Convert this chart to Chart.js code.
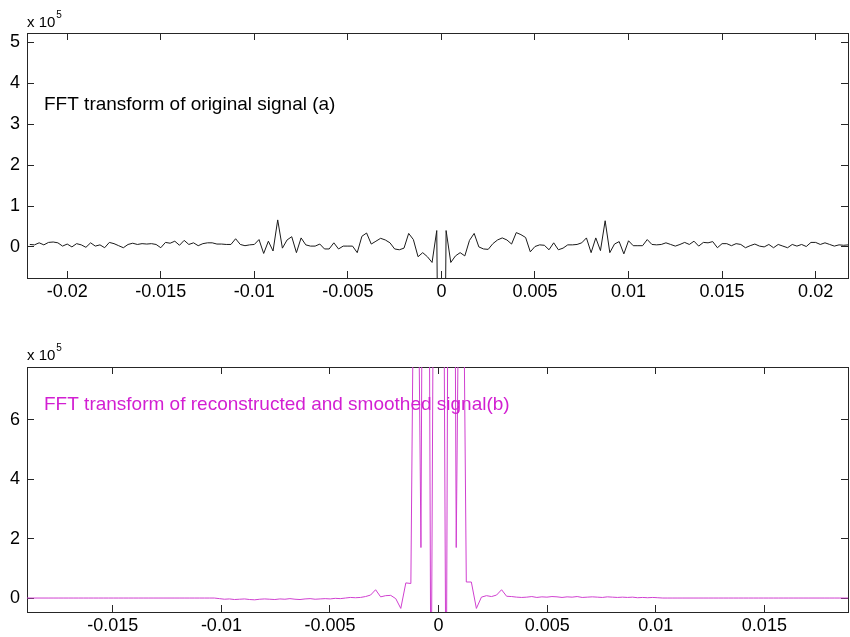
<!DOCTYPE html>
<html>
<head>
<meta charset="utf-8">
<script src="https://cdn.jsdelivr.net/npm/chart.js@4.4.0/dist/chart.umd.min.js"></script>
<style>
  html, body { margin: 0; padding: 0; background: #fff; }
  #wrap { position: relative; width: 850px; height: 637px; overflow: hidden; }
  canvas { position: absolute; left: 0; }
  #topChart { top: 0; }
  #bottomChart { top: 330px; }
</style>
</head>
<body>
<div id="wrap">
  <canvas id="topChart" width="850" height="310"></canvas>
  <canvas id="bottomChart" width="850" height="307"></canvas>
</div>
<script>
/* =========================
  Data (values in units of 1e5)
========================= */
// top: FFT of original signal, uniform frequency bins
const topStart = -0.022;
const topStep = 0.00025;
const topValues = [
  0.06, 0.05, 0.10, 0.05, 0.11, 0.12, 0.10, 0.02, 0.07, 0.00,
  0.08, 0.05, -0.01, 0.10, 0.02, 0.05, -0.02, 0.11, 0.08, 0.03,
  -0.02, 0.06, 0.09, 0.06, 0.08, 0.07, 0.08, 0.06, -0.02, 0.11,
  0.09, 0.14, 0.04, 0.16, 0.06, 0.10, 0.03, 0.08, 0.10, 0.10,
  0.07, 0.07, 0.06, 0.06, 0.20, 0.06, 0.03, 0.05, 0.06, 0.18,
  -0.16, 0.14, -0.10, 0.66, -0.03, 0.17, 0.25, -0.14, 0.22, 0.05,
  0.02, 0.02, 0.07, -0.05, -0.05, 0.10, -0.05, 0.02, 0.02, 0.02,
  -0.14, 0.26, 0.34, 0.07, 0.14, 0.21, 0.17, 0.10, -0.05, -0.07,
  -0.03, 0.33, 0.18, -0.24, -0.14, -0.24, -0.38, 0.40,
  -12,
  0.40, -0.38, -0.22, -0.14, -0.22, 0.16, 0.33, 0.00, -0.05, -0.06, 0.08,
  0.17, 0.22, 0.17, 0.07, 0.35, 0.30, 0.23, -0.12, 0.01, 0.05,
  0.04, -0.07, 0.10, -0.07, -0.03, 0.05, 0.05, 0.06, 0.10, 0.22,
  -0.14, 0.22, -0.09, 0.64, -0.14, 0.07, 0.13, -0.17, 0.15, 0.03,
  0.03, 0.03, 0.18, 0.06, 0.05, 0.06, 0.10, 0.06, 0.02, 0.06,
  0.11, 0.06, 0.14, 0.02, 0.11, 0.10, 0.13, -0.02, 0.08, 0.08,
  0.03, 0.08, 0.06, -0.02, 0.03, 0.07, 0.02, 0.00, 0.06, -0.02,
  0.06, 0.02, -0.02, 0.06, 0.02, 0.06, 0.01, 0.11, 0.11, 0.06,
  0.10, 0.06, 0.02, 0.05, 0.04, 0.05
];

// bottom: FFT of reconstructed + smoothed signal, bins at (k + 0.5) * step
const bottomFirstK = -83;
const bottomStep = 0.000232;
const bottomValues = [
  0, 0, 0, 0, 0, 0, 0, 0, 0, 0, 0, 0, 0, 0, 0, 0, 0, 0, 0, 0,
  0, 0, 0, 0, 0, 0, 0, 0, 0, 0, 0, 0, 0, 0, 0, 0, 0, 0, 0,
  -0.02, -0.04, -0.03, -0.05, -0.04, -0.03, -0.05, -0.06, -0.04, -0.03,
  -0.04, -0.05, -0.03, -0.04, -0.02, -0.04, -0.05, -0.03, -0.02, -0.04,
  -0.03, -0.02, -0.03, -0.01, -0.02, 0.00, 0.02, 0.01,
  0.02, 0.05, 0.10, 0.28, 0.04, 0.08, 0.09, -0.02, -0.35, 0.51,
  0.49, 20, 1.7, 40, -5, 30, 30, -5, 40, 1.7,
  20, 0.54, 0.54, -0.35, 0.03, 0.08, 0.05, 0.10, 0.28, 0.06,
  0.05, 0.03,
  0.02, 0.03, 0.05, 0.02, 0.04, 0.03, 0.05, 0.04, 0.02, 0.04,
  0.03, 0.05, 0.02, 0.03, 0.04, 0.03, 0.02, 0.04, 0.03, 0.02,
  0.03, 0.02, 0.03, 0.01, 0.02, 0.01, 0.02, 0.01,
  0, 0, 0, 0, 0, 0, 0, 0, 0, 0, 0, 0, 0, 0, 0, 0, 0, 0, 0, 0,
  0, 0, 0, 0, 0, 0, 0, 0, 0, 0, 0, 0, 0, 0, 0, 0, 0, 0, 0
];

const topTitle = "FFT transform of original signal (a)";
const bottomTitle = "FFT transform of reconstructed and smoothed signal(b)";
const xTickStep = 0.005;

/* =========================
  Helper
========================= */
const FONT = "'Liberation Sans', Arial, Helvetica, sans-serif";
const AXIS = "#262626";

function fmtTick(v) {
  const r = Math.round(v * 10000) / 10000;
  return r === 0 ? "0" : String(r);
}

function makeScales(o) {
  const tickFont = { family: FONT, size: 18 };
  const border = { color: AXIS, width: 1 };
  const grid = { drawOnChartArea: false, tickLength: -7, color: AXIS, lineWidth: 1 };
  return {
    x: {
      type: "linear", position: "bottom", min: o.xMin, max: o.xMax,
      ticks: { stepSize: xTickStep, includeBounds: false, color: "#000", font: tickFont,
               padding: 10, maxRotation: 0, autoSkip: false, callback: fmtTick },
      grid, border,
      afterFit: s => { s.height = o.xAxisH; }
    },
    xTop: {
      type: "linear", position: "top", min: o.xMin, max: o.xMax,
      ticks: { stepSize: xTickStep, includeBounds: false, display: false },
      grid, border,
      afterFit: s => { s.height = 0; }
    },
    y: {
      type: "linear", position: "left", min: o.yMin, max: o.yMax,
      ticks: { stepSize: o.yStep, includeBounds: false, color: "#000", font: tickFont,
               padding: 14, callback: fmtTick },
      grid, border,
      afterFit: s => { s.width = 27; }
    },
    yRight: {
      type: "linear", position: "right", min: o.yMin, max: o.yMax,
      ticks: { stepSize: o.yStep, includeBounds: false, display: false },
      grid, border,
      afterFit: s => { s.width = 0; }
    }
  };
}

// "x 10^5" exponent and the in-plot caption
const annotate = {
  id: "annotate",
  afterDraw(chart, args, opts) {
    const ctx = chart.ctx;
    ctx.save();
    ctx.fillStyle = "#000";
    ctx.textBaseline = "alphabetic";
    ctx.font = "15px " + FONT;
    ctx.fillText("x 10", 27, opts.expY);
    const w = ctx.measureText("x 10").width;
    ctx.font = "10px " + FONT;
    ctx.fillText("5", 27 + w + 1, opts.expY - 9);
    ctx.font = "19px " + FONT;
    ctx.fillStyle = opts.color;
    ctx.fillText(opts.text, 44, opts.titleY);
    ctx.restore();
  }
};

function makeChart(el, points, color, scaleOpts, annot, padTop) {
  return new Chart(el, {
    type: "line",
    data: {
      datasets: [{
        data: points,
        borderColor: color,
        borderWidth: 1,
        pointRadius: 0,
        tension: 0,
        fill: false
      }]
    },
    options: {
      responsive: false,
      animation: false,
      parsing: false,
      normalized: true,
      layout: { padding: { top: padTop, right: 2, left: 0, bottom: 0 } },
      plugins: {
        legend: { display: false },
        tooltip: { enabled: false },
        annotate: annot
      },
      scales: makeScales(scaleOpts)
    },
    plugins: [annotate]
  });
}

/* =========================
  Render
========================= */
const topPoints = topValues.map((v, i) => ({ x: topStart + i * topStep, y: v }));
const bottomPoints = bottomValues.map((v, i) => ({ x: (bottomFirstK + i + 0.5) * bottomStep, y: v }));

makeChart(document.getElementById("topChart"), topPoints, "#1a1a1a",
  { xMin: -0.02215, xMax: 0.02173, yMin: -0.76, yMax: 5.23, yStep: 1, xAxisH: 32 },
  { text: topTitle, color: "#000", titleY: 110, expY: 27 }, 33);

makeChart(document.getElementById("bottomChart"), bottomPoints, "#d040d0",
  { xMin: -0.01895, xMax: 0.01885, yMin: -0.47, yMax: 7.78, yStep: 2, xAxisH: 25 },
  { text: bottomTitle, color: "#d21fd2", titleY: 80, expY: 30 }, 37);
</script>
</body>
</html>
